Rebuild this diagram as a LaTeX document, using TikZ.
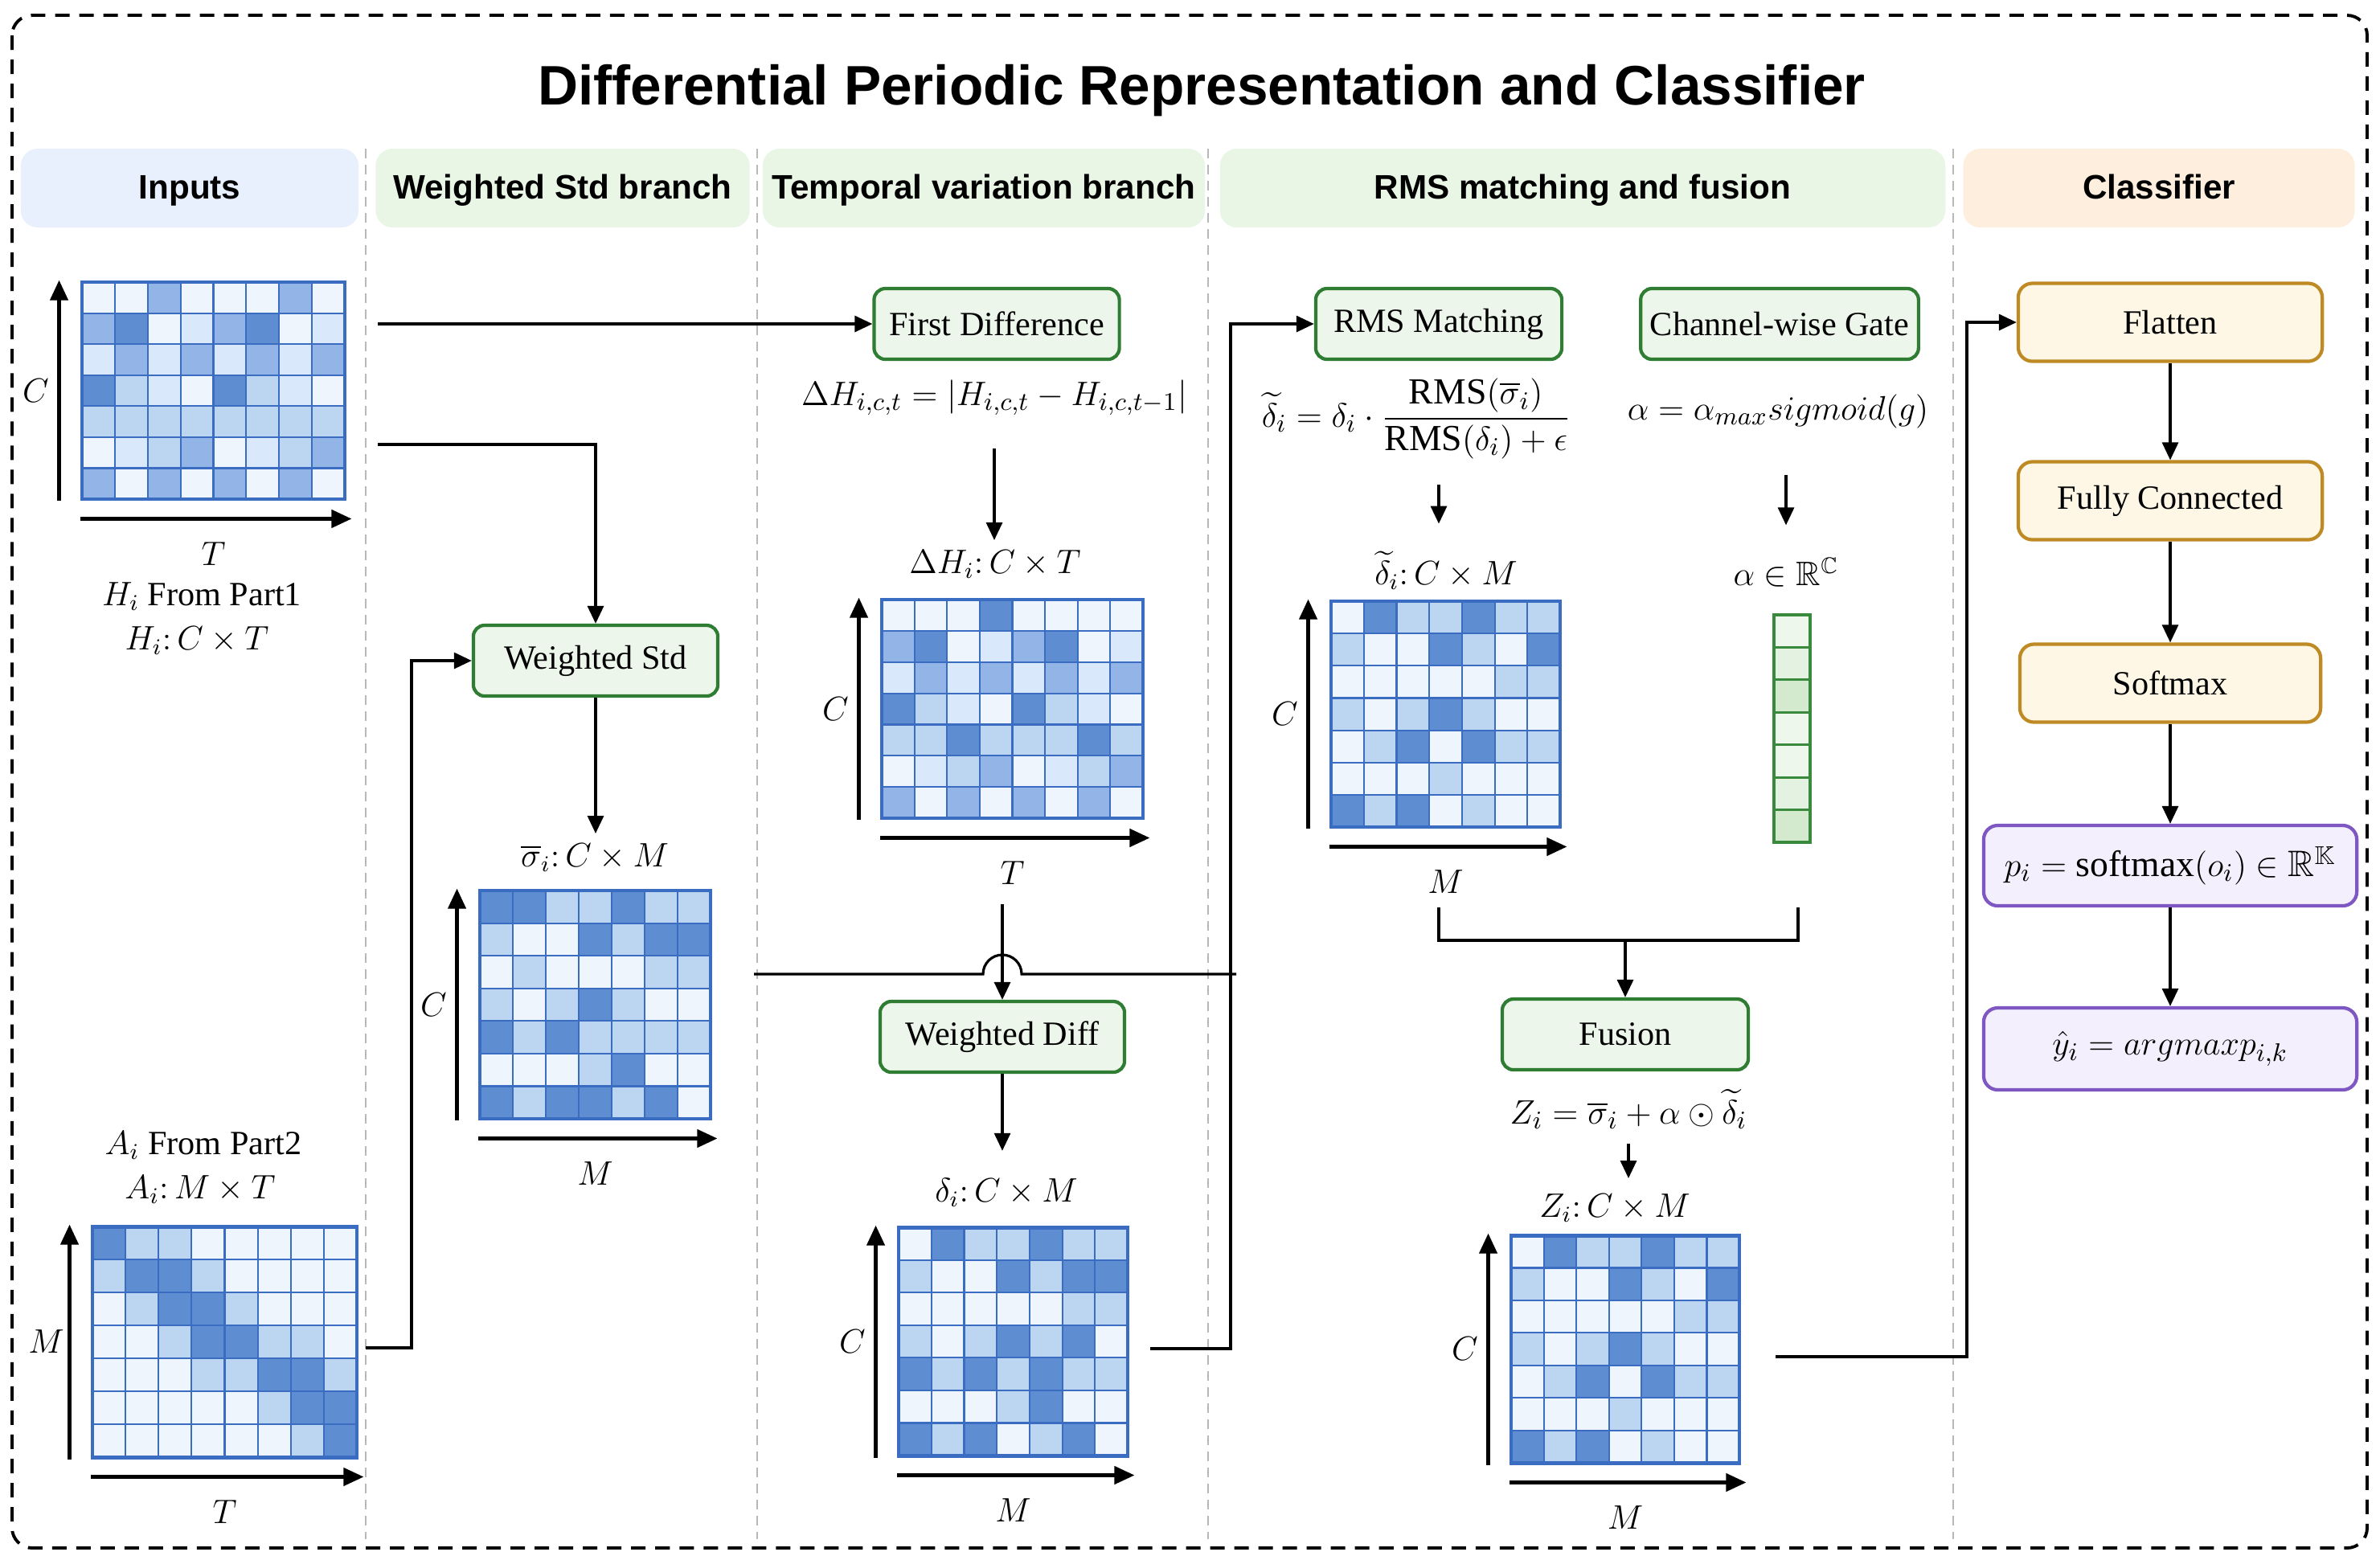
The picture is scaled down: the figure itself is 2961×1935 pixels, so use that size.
\documentclass[tikz,border=0pt]{standalone}
\usepackage{amsmath,amssymb}
\usepackage{fontspec}
\setmainfont{Liberation Serif}
\newfontfamily\headfont{Liberation Sans}
\usetikzlibrary{arrows.meta,fit}

% heat map shades
\definecolor{hm1}{HTML}{EEF5FD}
\definecolor{hm2}{HTML}{DAE8FB}
\definecolor{hm3}{HTML}{BCD6F2}
\definecolor{hm4}{HTML}{92B4E6}
\definecolor{hm5}{HTML}{5F8DD2}
\definecolor{hmline}{HTML}{3A6CC2}
% gate vector shades
\definecolor{av1}{HTML}{EEF7EC}
\definecolor{av2}{HTML}{E4F2E1}
\definecolor{av3}{HTML}{D3EACF}
\definecolor{avline}{HTML}{3A8A3E}
% boxes and headers
\definecolor{hdrblue}{HTML}{E7F0FC}
\definecolor{hdrgreen}{HTML}{E9F5E5}
\definecolor{hdrorange}{HTML}{FDEEDD}
\definecolor{grnline}{HTML}{2E7D32}
\definecolor{grnfill}{HTML}{ECF6EA}
\definecolor{goldline}{HTML}{BF8A24}
\definecolor{goldfill}{HTML}{FEF7E5}
\definecolor{purpline}{HTML}{7E57C2}
\definecolor{purpfill}{HTML}{F3EFFC}

% #1 name, #2-#5 corners, #6 cols, #7 rows, #8 cell shades
\newcommand{\heatmap}[8]{%
  \pgfmathsetmacro\hmcw{(#4-#2)/#6}%
  \pgfmathsetmacro\hmch{(#5-#3)/#7}%
  \foreach \hmrow [count=\hr] in {#8}{%
    \foreach \v [count=\hc] in \hmrow{%
      \fill[fill=hm\v, draw=hmline, line width=0.6pt] ({#2+(\hc-1)*\hmcw},{#3+(\hr-1)*\hmch}) rectangle ++(\hmcw,\hmch);
    }
  }
  \node[fit={(#2,#3) (#4,#5)}, inner sep=0pt, draw=hmline, line width=1.4pt] (#1) {};
}
% axes of a heat map: #1 matrix, #2 horizontal label, #3 vertical label
\newcommand{\matrixaxes}[3]{%
  \draw[axis] ([xshift=-0.26cm]#1.south west) -- ([xshift=-0.26cm]#1.north west);
  \draw[axis] ([yshift=-0.22cm]#1.south west) -- ([yshift=-0.22cm,xshift=0.06cm]#1.south east);
  \node (#1-x) at ([yshift=-0.66cm]#1.south) {$#2$};
  \node (#1-y) at ([xshift=-0.55cm]#1.west) {$#3$};
}

\begin{document}
\begin{tikzpicture}[x=0.01cm, y=-0.01cm,
    every node/.style={font=\fontsize{12}{14}\selectfont},
    outer/.style={draw=black, line width=1.1pt, dash pattern=on 0.18cm off 0.12cm, rounded corners=0.25cm},
    divider/.style={draw=black!28, line width=0.8pt, dash pattern=on 0.12cm off 0.08cm},
    hdr/.style={rounded corners=6pt, minimum height=0.98cm, text height=0.75em, text depth=0pt, font=\headfont\bfseries\fontsize{12}{14}\selectfont},
    greenbox/.style={draw=grnline, fill=grnfill, line width=1.2pt, rounded corners=4pt, minimum height=0.88cm, minimum width=3.05cm},
    goldbox/.style={draw=goldline, fill=goldfill, line width=1.2pt, rounded corners=5pt, minimum height=0.97cm, minimum width=3.78cm},
    purpbox/.style={draw=purpline, fill=purpfill, line width=1.2pt, rounded corners=5pt, minimum height=1.0cm, minimum width=4.64cm, font=\fontsize{13}{15}\selectfont},
    formula/.style={font=\fontsize{13}{15}\selectfont},
    conn/.style={-{Triangle[length=0.22cm,width=0.2cm]}, line width=0.9pt},
    link/.style={line width=0.9pt},
    axis/.style={-{Triangle[length=0.25cm,width=0.22cm]}, line width=1.2pt}]
\useasboundingbox (0,0) rectangle (2961,1935);

% frame, title, columns
\draw[outer] (15,19) rectangle (2945,1926);
\node[font=\headfont\bfseries\fontsize{19.7}{23}\selectfont] (title) at (1495,113) {Differential Periodic Representation and Classifier};
\foreach \xd in {455,942,1503,2430}
  \draw[divider] (\xd,185) -- (\xd,1915);
\node[hdr, fill=hdrblue, minimum width=4.20cm] (hInputs) at (236,234) {Inputs};
\node[hdr, fill=hdrgreen, minimum width=4.65cm] (hStd) at (700,234) {Weighted Std branch};
\node[hdr, fill=hdrgreen, minimum width=5.39cm] (hTemp) at (1224,234) {Temporal variation branch};
\node[hdr, fill=hdrgreen, minimum width=9.02cm] (hRMS) at (1969,234) {RMS matching and fusion};
\node[hdr, fill=hdrorange, minimum width=4.87cm] (hCls) at (2686,234) {Classifier};

% inputs
\heatmap{Hmat}{102}{351}{429}{621}{8}{7}{{1,1,4,1,1,1,4,1},{4,5,1,2,4,5,1,2},{2,4,2,4,2,4,2,4},{5,3,2,1,5,3,2,1},{3,3,3,3,3,3,3,3},{1,2,3,4,1,2,3,4},{4,1,4,1,4,1,4,1}}
\matrixaxes{Hmat}{T}{C}
\node (Hfrom) at (251,742) {$H_i$ From Part1};
\node (Hdim) at (245,797) {$H_i{:}\,C \times T$};

\node (Afrom) at (253,1425) {$A_i$ From Part2};
\node (Adim) at (249,1480) {$A_i{:}\,M \times T$};
\heatmap{Amat}{115}{1526}{444}{1813}{8}{7}{{5,3,3,1,1,1,1,1},{3,5,5,3,1,1,1,1},{1,3,5,5,3,1,1,1},{1,1,3,5,5,3,3,1},{1,1,1,3,3,5,5,3},{1,1,1,1,1,3,5,5},{1,1,1,1,1,1,3,5}}
\matrixaxes{Amat}{T}{M}

% weighted std branch
\node[greenbox, minimum width=3.04cm] (WStd) at (741,822) {Weighted Std};
\node (Slab) at (740,1067) {$\overline{\sigma}_i{:}\,C \times M$};
\heatmap{Smat}{597}{1108}{884}{1392}{7}{7}{{5,5,3,3,5,3,3},{3,1,1,5,3,5,5},{1,3,1,1,1,3,3},{3,1,3,5,3,1,1},{5,3,5,3,3,3,3},{1,1,1,3,5,1,1},{5,3,5,5,3,5,1}}
\matrixaxes{Smat}{M}{C}

% temporal variation branch
\node[greenbox] (FirstDiff) at (1240,403) {First Difference};
\node[formula] (FDform) at (1237,495) {$\Delta H_{i,c,t} = \left|H_{i,c,t} - H_{i,c,t-1}\right|$};
\node (DHlab) at (1238,702) {$\Delta H_i{:}\,C \times T$};
\heatmap{DHmat}{1097}{746}{1422}{1018}{8}{7}{{1,1,1,5,1,1,1,1},{4,5,1,2,4,5,1,2},{2,4,2,4,2,4,2,4},{5,3,2,1,5,3,2,1},{3,3,5,3,3,3,5,3},{1,2,3,4,1,2,3,4},{4,1,4,1,4,1,4,1}}
\matrixaxes{DHmat}{T}{C}
\node[greenbox, minimum width=3.04cm] (WDiff) at (1247,1290) {Weighted Diff};
\node (Dlab) at (1252,1484) {$\delta_i{:}\,C \times M$};
\heatmap{Dmat}{1118}{1527}{1403}{1811}{7}{7}{{1,5,3,3,5,3,3},{3,1,1,5,3,5,5},{1,1,1,1,1,3,3},{3,1,3,5,3,5,1},{5,3,5,3,5,3,3},{1,1,1,3,5,1,1},{5,3,5,1,3,5,1}}
\matrixaxes{Dmat}{M}{C}

% RMS matching and fusion
\node[greenbox, minimum width=3.06cm] (RMS) at (1790,403) {RMS Matching};
\node[greenbox, minimum width=3.45cm] (Gate) at (2214,403) {Channel-wise Gate};
\node[formula] (RMSform) at (1762,521) {$\widetilde{\delta}_i = \delta_i \cdot \dfrac{\mathrm{RMS}(\overline{\sigma}_i)}{\mathrm{RMS}(\delta_i) + \epsilon}$};
\node[formula] (Gform) at (2212,512) {$\alpha = \alpha_{max} sigmoid(g)$};
\node (Tlab) at (1799,710) {$\widetilde{\delta}_i{:}\,C \times M$};
\node (Alab) at (2222,712) {$\alpha \in \mathbb{R}^{\mathbb{C}}$};
\heatmap{Tmat}{1656}{748}{1941}{1029}{7}{7}{{1,5,3,3,5,3,3},{3,1,1,5,3,1,5},{1,1,1,1,1,3,3},{3,1,3,5,3,1,1},{1,3,5,1,5,3,3},{1,1,1,3,1,1,1},{5,3,5,1,3,1,1}}
\matrixaxes{Tmat}{M}{C}
\foreach \v [count=\k] in {1,2,3,1,1,2,3}
  \fill[fill=av\v, draw=avline, line width=0.8pt] (2207,{765+(\k-1)*40.43}) rectangle ++(45,40.43);
\node[fit={(2207,765) (2252,1048)}, inner sep=0pt, draw=avline, line width=1.4pt] (Avec) {};
\node[greenbox, minimum width=3.06cm] (Fusion) at (2022,1287) {Fusion};
\node[formula] (Fform) at (2026,1380) {$Z_i = \overline{\sigma}_i + \alpha \odot \widetilde{\delta}_i$};
\node (Zlab) at (2009,1503) {$Z_i{:}\,C \times M$};
\heatmap{Zmat}{1880}{1537}{2164}{1820}{7}{7}{{1,5,3,3,5,3,3},{3,1,1,5,3,1,5},{1,1,1,1,1,3,3},{3,1,3,5,3,1,1},{1,3,5,1,5,3,3},{1,1,1,3,1,1,1},{5,3,5,1,3,1,1}}
\matrixaxes{Zmat}{M}{C}

% classifier
\node[goldbox] (Flatten) at (2700,401) {Flatten};
\node[goldbox] (FC) at (2700,623) {Fully Connected};
\node[goldbox, minimum width=3.74cm] (Softmax) at (2700,850) {Softmax};
\node[purpbox] (Pbox) at (2700,1077) {$p_i = \mathrm{softmax}(o_i) \in \mathbb{R}^{\mathbb{K}}$};
\node[purpbox, minimum height=1.02cm] (Ybox) at (2700,1305) {$\hat{y}_i = argmax p_{i,k}$};

% connectors
\coordinate (h1) at (470,403);
\coordinate (h2) at (470,553);
\coordinate (a1) at (455,1677);
\coordinate (d1) at (1431,1678);
\coordinate (z1) at (2209,1688);
\coordinate (sigout) at (938,1212);
\coordinate (sigjoin) at (1538,1212);
\coordinate (jl) at (1790,1129);
\coordinate (jr) at (2237,1129);
\coordinate (jm) at (2022,1170);

\draw[conn] (h1) -- (FirstDiff.west);
\draw[conn] (h2) -| (WStd.north);
\draw[conn] (a1) -- ++(57,0) |- (WStd.west);
\draw[conn] (WStd.south) -- (WStd.south |- Slab.north);
\draw[conn] ([yshift=-0.28cm]FDform.south) -- (FDform.south |- DHlab.north);
\draw[conn] ([yshift=-0.12cm]WDiff.north |- DHmat-x.south) -- (WDiff.north);
\draw[link] (sigout) -- (1223,1212) arc[start angle=180, end angle=0, radius=0.24cm] -- (sigjoin);
\draw[conn] (WDiff.south) -- ([yshift=0.22cm]WDiff.south |- Dlab.north);
\draw[conn] (d1) -- ++(100,0) |- (RMS.west);
\draw[conn] ([yshift=-0.2cm]RMS.south |- RMSform.south) -- ([yshift=0.22cm]RMS.south |- Tlab.north);
\draw[conn] ([yshift=-0.45cm]Alab.north |- Gform.south) -- ([yshift=0.28cm]Alab.north);
\draw[link] (jl) |- (jm) -| (jr);
\draw[conn] (jm) -- (Fusion.north);
\draw[conn] ([yshift=-0.06cm]Fform.south) -- ([yshift=0.07cm]Fform.south |- Zlab.north);
\draw[conn] (z1) -- ++(238,0) |- (Flatten.west);
\draw[conn] (Flatten) -- (FC);
\draw[conn] (FC) -- (Softmax);
\draw[conn] (Softmax) -- (Pbox);
\draw[conn] (Pbox) -- (Ybox);
\end{tikzpicture}
\end{document}
